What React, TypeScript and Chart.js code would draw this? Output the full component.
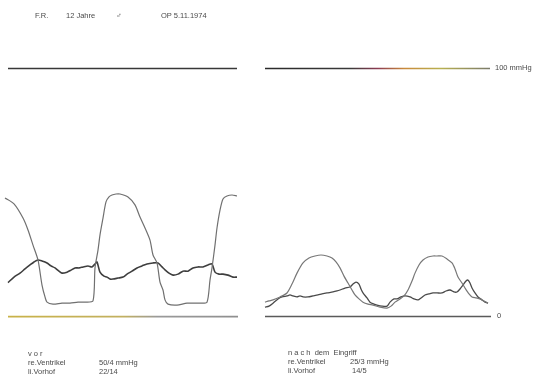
import React, { useEffect, useRef } from "react";
import Chart from "chart.js/auto";

// ---- reference lines (mmHg) ----
const zeroLeftTime = [8, 238];
const zeroRightTime = [265, 491];
const topLeftTime = [8, 237];
const topRightTime = [265, 490];
const refZero = [0, 0];
const refHundred = [100, 100];

// ---- before surgery (vor) ----
const preVentTime = [5, 14, 23, 28, 33, 38, 42, 45, 47, 53, 62, 70, 78, 85, 93, 95, 98, 100, 103, 106, 109, 112, 116, 120, 128, 135, 140, 145, 150, 153, 157, 160, 163, 165, 168, 177, 187, 200, 207, 210, 212, 215, 217, 220, 223, 227, 232, 237];
const preVentPressure = [47.8, 45.4, 39.7, 34.9, 28.8, 22.8, 12.7, 7.9, 5.8, 5.0, 5.4, 5.4, 5.8, 5.8, 6.3, 19.6, 26.8, 32.9, 39.7, 46.2, 48.2, 49.0, 49.4, 49.4, 48.2, 45.0, 40.1, 35.7, 30.8, 24.8, 21.6, 13.9, 10.7, 6.7, 5.0, 4.6, 5.4, 5.4, 5.8, 14.7, 19.6, 28.8, 35.7, 42.9, 47.4, 48.6, 49.0, 48.6];

const preAtrTime = [8, 14, 20, 25, 30, 34, 38, 42, 47, 51, 55, 59, 62, 67, 71, 75, 79, 83, 88, 92, 95, 97, 100, 104, 107, 110, 113, 118, 123, 127, 132, 137, 142, 147, 153, 158, 162, 165, 169, 173, 178, 183, 188, 193, 198, 203, 208, 212, 215, 219, 223, 228, 233, 237];
const preAtrPressure = [13.7, 15.9, 17.5, 19.2, 20.8, 22.0, 22.8, 22.4, 21.6, 20.4, 19.6, 18.3, 17.5, 17.9, 18.7, 19.6, 19.6, 20.0, 20.4, 20.0, 21.2, 22.0, 17.9, 16.3, 15.9, 15.1, 15.1, 15.5, 15.9, 17.1, 18.3, 19.6, 20.4, 21.2, 21.6, 21.6, 20.0, 18.8, 17.5, 16.7, 17.1, 18.3, 18.3, 19.6, 20.0, 20.0, 20.8, 21.2, 17.9, 17.1, 17.1, 16.7, 15.9, 15.9];

// ---- after surgery (nach dem Eingriff) ----
const postVentTime = [265, 269, 273, 280, 287, 292, 297, 303, 309, 315, 321, 327, 332, 336, 340, 344, 348, 352, 355, 359, 363, 368, 373, 380, 387, 391, 395, 400, 404, 408, 412, 415, 419, 423, 428, 433, 437, 442, 447, 452, 455, 458, 462, 465, 469, 472, 476, 480, 484, 488];
const postVentPressure = [5.8, 6.3, 6.7, 7.9, 9.5, 13.1, 17.5, 21.6, 23.6, 24.4, 24.8, 24.4, 23.6, 22.0, 19.6, 16.3, 13.5, 10.7, 8.7, 7.1, 5.8, 5.0, 4.6, 3.8, 3.4, 4.2, 5.8, 7.1, 8.3, 10.7, 14.3, 17.5, 20.8, 22.8, 24.0, 24.4, 24.4, 24.4, 23.2, 21.6, 19.2, 15.9, 13.5, 11.5, 9.1, 7.9, 7.5, 7.1, 6.3, 5.4];

const postAtrTime = [265, 269, 273, 278, 282, 287, 290, 293, 297, 300, 303, 308, 313, 318, 322, 327, 333, 337, 340, 345, 350, 353, 356, 359, 361, 363, 367, 370, 374, 377, 382, 387, 390, 394, 397, 401, 405, 410, 414, 418, 421, 425, 429, 433, 437, 442, 446, 450, 454, 457, 460, 463, 466, 468, 470, 472, 475, 478, 482, 485, 488];
const postAtrPressure = [3.8, 4.2, 5.4, 7.1, 7.9, 8.3, 8.7, 8.3, 7.9, 8.3, 7.9, 7.9, 8.3, 8.7, 9.1, 9.5, 9.9, 10.3, 10.7, 11.5, 11.9, 13.1, 13.9, 13.1, 11.1, 9.5, 7.5, 5.8, 5.0, 4.6, 4.2, 4.2, 5.8, 7.1, 7.1, 7.9, 8.3, 7.9, 7.1, 6.7, 7.5, 8.7, 9.1, 9.5, 9.5, 9.5, 10.3, 10.7, 9.9, 9.9, 11.1, 12.7, 14.3, 14.7, 13.5, 11.5, 9.5, 7.9, 6.7, 5.8, 5.4];

const toPoints = (xs: number[], ys: number[]) => xs.map((x, i) => ({ x, y: ys[i] }));

const textStyle: React.CSSProperties = {
  position: "absolute",
  fontFamily: "'Liberation Sans', Arial, sans-serif",
  fontSize: "7.5px",
  color: "#4a4a4a",
  whiteSpace: "pre",
  lineHeight: "1",
};

function T({ x, y, children }: { x: number; y: number; children: React.ReactNode }) {
  return <div style={{ ...textStyle, left: x, top: y }}>{children}</div>;
}

export default function App() {
  const ref = useRef<HTMLCanvasElement | null>(null);

  useEffect(() => {
    const canvas = ref.current;
    if (!canvas) return;
    const ctx = canvas.getContext("2d")!;

    const leftBase = ctx.createLinearGradient(8, 0, 238, 0);
    leftBase.addColorStop(0, "#c9b248");
    leftBase.addColorStop(0.5, "#c2b060");
    leftBase.addColorStop(0.65, "#9a9a9a");
    leftBase.addColorStop(1, "#8f8f8f");

    const rightTop = ctx.createLinearGradient(265, 0, 490, 0);
    rightTop.addColorStop(0, "#2a2a2a");
    rightTop.addColorStop(0.38, "#3a3a3a");
    rightTop.addColorStop(0.5, "#8c3b52");
    rightTop.addColorStop(0.62, "#c98a3a");
    rightTop.addColorStop(0.78, "#b8b050");
    rightTop.addColorStop(1, "#7a7a6a");

    const line = (data: { x: number; y: number }[], color: any, width: number, tension = 0.25) => ({
      data,
      borderColor: color,
      borderWidth: width,
      pointRadius: 0,
      fill: false,
      tension,
    });

    const chart = new Chart(ctx, {
      type: "line",
      data: {
        datasets: [
          line(toPoints(topLeftTime, refHundred), "#383838", 1.6, 0),
          line(toPoints(topRightTime, refHundred), rightTop, 1.6, 0),
          line(toPoints(zeroLeftTime, refZero), leftBase, 1.8, 0),
          line(toPoints(zeroRightTime, refZero), "#5a5a5a", 1.4, 0),
          line(toPoints(preVentTime, preVentPressure), "#707070", 1.2),
          line(toPoints(preAtrTime, preAtrPressure), "#3e3e3e", 1.6),
          line(toPoints(postVentTime, postVentPressure), "#777777", 1.2),
          line(toPoints(postAtrTime, postAtrPressure), "#4a4a4a", 1.3),
        ],
      },
      options: {
        animation: false,
        responsive: false,
        events: [],
        layout: { padding: 0 },
        plugins: { legend: { display: false }, tooltip: { enabled: false } },
        scales: {
          x: { type: "linear", display: false, min: 0, max: 547 },
          y: { type: "linear", display: false, min: -28.0, max: 127.6 },
        },
      },
    });
    return () => chart.destroy();
  }, []);

  return (
    <div style={{ position: "fixed", left: 0, top: 0, width: 547, height: 386, background: "#fff" }}>
      <canvas ref={ref} width={547} height={386} style={{ width: 547, height: 386, display: "block" }} />
      <T x={35} y={12}>F.R.</T>
      <T x={66} y={12}>12 Jahre</T>
      <T x={116} y={12}>♂</T>
      <T x={161} y={12}>OP 5.11.1974</T>
      <T x={495} y={64}>100 mmHg</T>
      <T x={497} y={312}>0</T>
      <T x={28} y={350}>v o r</T>
      <T x={28} y={359}>re.Ventrikel</T>
      <T x={99} y={359}>50/4 mmHg</T>
      <T x={28} y={368}>li.Vorhof</T>
      <T x={99} y={368}>22/14</T>
      <T x={288} y={349}>n a c h  dem  Eingriff</T>
      <T x={288} y={358}>re.Ventrikel</T>
      <T x={350} y={358}>25/3 mmHg</T>
      <T x={288} y={367}>li.Vorhof</T>
      <T x={352} y={367}>14/5</T>
    </div>
  );
}
